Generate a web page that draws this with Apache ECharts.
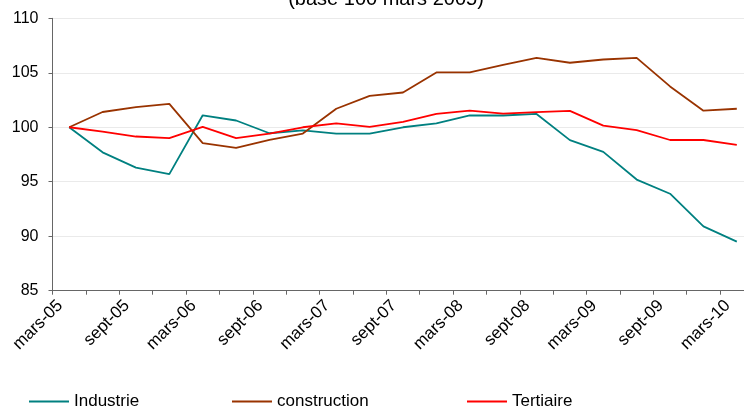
<!DOCTYPE html>
<html>
<head>
<meta charset="utf-8">
<script src="https://cdn.jsdelivr.net/npm/echarts@6/dist/echarts.min.js"></script>
<style>html,body{margin:0;padding:0;background:#fff;overflow:hidden;width:744px;height:408px;}#c{width:760px;height:408px;}</style>
</head>
<body>
<div id="c"></div>
<script>
const categories = [
  "mars-05","juin-05","sept-05","déc-05",
  "mars-06","juin-06","sept-06","déc-06",
  "mars-07","juin-07","sept-07","déc-07",
  "mars-08","juin-08","sept-08","déc-08",
  "mars-09","juin-09","sept-09","déc-09",
  "mars-10"
];
const industrie = [100, 97.7, 96.3, 95.7, 101.1, 100.62, 99.45, 99.72, 99.42, 99.42, 100, 100.35, 101.08, 101.08, 101.22, 98.82, 97.74, 95.2, 93.9, 90.9, 89.5];
const construction = [100, 101.4, 101.85, 102.15, 98.55, 98.1, 98.85, 99.42, 101.7, 102.88, 103.19, 105.03, 105.03, 105.72, 106.37, 105.92, 106.22, 106.37, 103.75, 101.52, 101.7];
const tertiaire = [100, 99.6, 99.15, 99.0, 100.03, 99.0, 99.42, 100.0, 100.35, 100.03, 100.5, 101.23, 101.52, 101.25, 101.38, 101.5, 100.15, 99.74, 98.83, 98.83, 98.38];
const yTicks = { min: 85, max: 110, interval: 5 };
const subtitle = "(base 100 mars 2005)";

const chart = echarts.init(document.getElementById('c'), null, {renderer: 'canvas'});
const font = 'Arial, "Liberation Sans", sans-serif';
function legendAt(name, left) {
  return {
    data: [name], left: left, top: 393, orient: 'horizontal', padding: 0,
    icon: 'rect', itemWidth: 40, itemHeight: 2, itemGap: 6,
    textStyle: { fontFamily: font, fontSize: 17, color: '#000' },
    selectedMode: false
  };
}
chart.setOption({
  animation: false,
  backgroundColor: '#fff',
  graphic: [{
    type: 'text', x: 386, y: -1,
    style: { text: subtitle, fill: '#000', font: '20px ' + font, textAlign: 'center', textVerticalAlign: 'middle' }
  }],
  legend: [legendAt('Industrie', 29), legendAt('construction', 232), legendAt('Tertiaire', 467)],
  grid: { left: 52.5, top: 18.3, width: 701, height: 272.4, containLabel: false },
  xAxis: {
    type: 'category', data: categories, boundaryGap: true,
    axisLine: { lineStyle: { color: '#666', width: 1 } },
    axisTick: { show: true, interval: 0, length: 4, lineStyle: { color: '#666' } },
    axisLabel: { interval: 1, rotate: 45, margin: 3, padding: [0, 13, 0, 0], fontFamily: font, fontSize: 17, color: '#000' },
    splitLine: { show: false }
  },
  yAxis: {
    type: 'value', min: yTicks.min, max: yTicks.max, interval: yTicks.interval,
    axisLine: { show: true, lineStyle: { color: '#666', width: 1 } },
    axisTick: { show: true, length: 4, lineStyle: { color: '#666' } },
    axisLabel: { margin: 14, fontFamily: font, fontSize: 16, color: '#000' },
    splitLine: { show: true, lineStyle: { color: '#d4d4d4', type: 'dotted', width: 1 } }
  },
  series: [
    { name: 'Industrie', type: 'line', data: industrie, symbol: 'none', color: '#008080', lineStyle: { width: 1.8, color: '#008080' } },
    { name: 'construction', type: 'line', data: construction, symbol: 'none', color: '#993300', lineStyle: { width: 1.8, color: '#993300' } },
    { name: 'Tertiaire', type: 'line', data: tertiaire, symbol: 'none', color: '#ff0000', lineStyle: { width: 1.8, color: '#ff0000' } }
  ]
});
</script>
</body>
</html>
